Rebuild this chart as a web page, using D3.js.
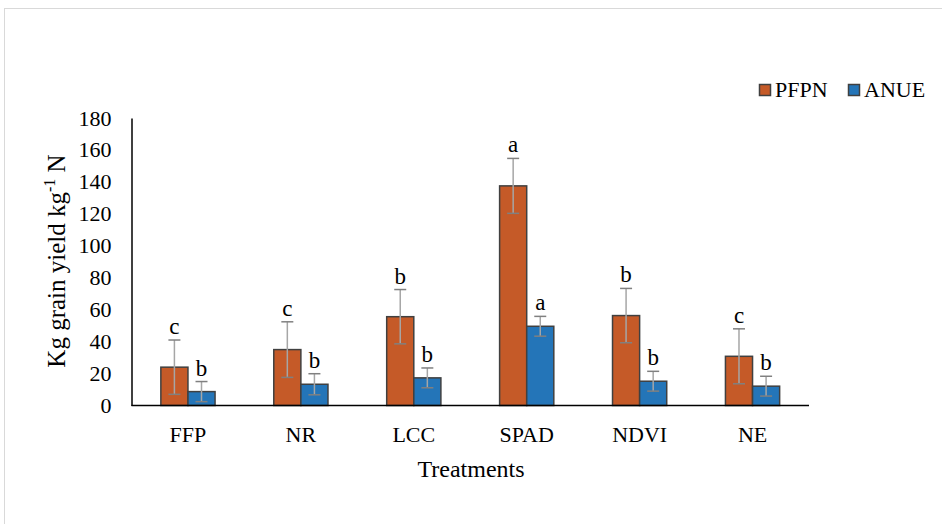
<!DOCTYPE html>
<html>
<head>
<meta charset="utf-8">
<script src="https://cdn.jsdelivr.net/npm/d3@7"></script>
<style>
  body { margin: 0; background: #fff; }
  svg { display: block; font-family: "Liberation Serif", "Times New Roman", serif; }
</style>
</head>
<body>
<div id="chart"></div>
<script>
// Data
const treatments = ['FFP', 'NR', 'LCC', 'SPAD', 'NDVI', 'NE'];
const seriesNames = ['PFPN', 'ANUE'];
const pfpn = [24, 35, 55.6, 137.5, 56.3, 30.8];
const pfpnErr = [17, 17.4, 17, 17.2, 17, 17.2];
const pfpnLetters = ['c', 'c', 'b', 'a', 'b', 'c'];
const anue = [8.7, 13.3, 17.3, 49.6, 15.2, 12.1];
const anueErr = [6.3, 6.6, 6.2, 6.2, 6.2, 6.2];
const anueLetters = ['b', 'b', 'b', 'a', 'b', 'b'];
const yTicks = [0, 20, 40, 60, 80, 100, 120, 140, 160, 180];

const colors = { PFPN: '#C55A28', ANUE: '#2475B8' };

const width = 942, height = 524;
const margin = { left: 131.5, right: 133, top: 118, bottom: 118 };
const baseY = 405.5;

const svg = d3.select('#chart').append('svg')
    .attr('width', width)
    .attr('height', height);

// Outer frame
svg.append('rect')
    .attr('x', 4.5).attr('y', 8.5)
    .attr('width', 1000).attr('height', 700)
    .attr('fill', 'none')
    .attr('stroke', '#D9D9D9')
    .attr('stroke-width', 1);

// Scales
const x0 = d3.scaleBand()
    .domain(treatments)
    .range([margin.left, width - margin.right])
    .paddingInner(0.52)
    .paddingOuter(0.26);

const x1 = d3.scaleBand()
    .domain(seriesNames)
    .range([0, x0.bandwidth()]);

const y = d3.scaleLinear()
    .domain([0, 180])
    .range([baseY, margin.top]);

// Build rows
const rows = [];
treatments.forEach((t, i) => {
    rows.push({ t, s: 'PFPN', v: pfpn[i], e: pfpnErr[i], l: pfpnLetters[i] });
    rows.push({ t, s: 'ANUE', v: anue[i], e: anueErr[i], l: anueLetters[i] });
});

// Y axis
const yAxis = svg.append('g')
    .attr('transform', `translate(${margin.left},0)`)
    .call(d3.axisLeft(y).tickValues(yTicks).tickSize(0).tickPadding(20));
yAxis.select('.domain').attr('stroke', '#000').attr('stroke-width', 1.5);
yAxis.selectAll('text')
    .attr('font-family', '"Liberation Serif", serif')
    .attr('font-size', 22)
    .attr('fill', '#000');

// X axis
const xAxis = svg.append('g')
    .attr('transform', `translate(0,${baseY})`)
    .call(d3.axisBottom(x0).tickSize(0).tickPadding(0).tickSizeOuter(0));
xAxis.select('.domain').remove();
xAxis.selectAll('text')
    .attr('font-family', '"Liberation Serif", serif')
    .attr('font-size', 22)
    .attr('fill', '#000')
    .attr('dy', 36);

// Bars
svg.append('g')
    .selectAll('rect')
    .data(rows)
    .enter().append('rect')
    .attr('x', d => x0(d.t) + x1(d.s))
    .attr('y', d => y(d.v))
    .attr('width', x1.bandwidth())
    .attr('height', d => baseY - y(d.v))
    .attr('fill', d => colors[d.s])
    .attr('stroke', '#404040')
    .attr('stroke-width', 1.5);

// Baseline drawn over bars
svg.append('line')
    .attr('x1', margin.left).attr('x2', width - margin.right)
    .attr('y1', baseY).attr('y2', baseY)
    .attr('stroke', '#000').attr('stroke-width', 1.5);

// Error bars
const err = svg.append('g');
const cx = d => x0(d.t) + x1(d.s) + x1.bandwidth() / 2;
err.selectAll('line.stem')
    .data(rows)
    .enter().append('line')
    .attr('class', 'stem')
    .attr('x1', cx).attr('x2', cx)
    .attr('y1', d => y(d.v + d.e))
    .attr('y2', d => y(d.v - d.e))
    .attr('stroke', '#A6A6A6')
    .attr('stroke-width', 1.5);
[1, -1].forEach(sign => {
    err.selectAll(null)
        .data(rows)
        .enter().append('line')
        .attr('x1', d => cx(d) - 6).attr('x2', d => cx(d) + 6)
        .attr('y1', d => y(d.v + sign * d.e))
        .attr('y2', d => y(d.v + sign * d.e))
        .attr('stroke', '#808080')
        .attr('stroke-width', 1.5);
});

// Significance letters
svg.append('g')
    .selectAll('text')
    .data(rows)
    .enter().append('text')
    .attr('x', cx)
    .attr('y', d => y(d.v + d.e) - 6)
    .attr('text-anchor', 'middle')
    .attr('font-size', 23)
    .attr('fill', '#000')
    .text(d => d.l);

// Axis titles
svg.append('text')
    .attr('x', 471).attr('y', 476.5)
    .attr('text-anchor', 'middle')
    .attr('font-size', 24)
    .text('Treatments');

const yTitle = svg.append('text')
    .attr('transform', 'translate(65,261) rotate(-90)')
    .attr('text-anchor', 'middle')
    .attr('font-size', 25);
yTitle.append('tspan').text('Kg grain yield kg');
yTitle.append('tspan').attr('font-size', 16).attr('dy', -10).text('-1');
yTitle.append('tspan').attr('dy', 10).text(' N');

// Legend
const legend = svg.append('g').attr('transform', 'translate(759,84)');
const legendX = [0, 89];
seriesNames.forEach((s, i) => {
    const g = legend.append('g').attr('transform', `translate(${legendX[i]},0)`);
    g.append('rect')
        .attr('width', 11).attr('height', 11)
        .attr('x', 0.5).attr('y', 0.5)
        .attr('fill', colors[s])
        .attr('stroke', '#404040')
        .attr('stroke-width', 1.5);
    g.append('text')
        .attr('x', 16).attr('y', 12.5)
        .attr('font-size', 22)
        .text(s);
});
</script>
</body>
</html>
